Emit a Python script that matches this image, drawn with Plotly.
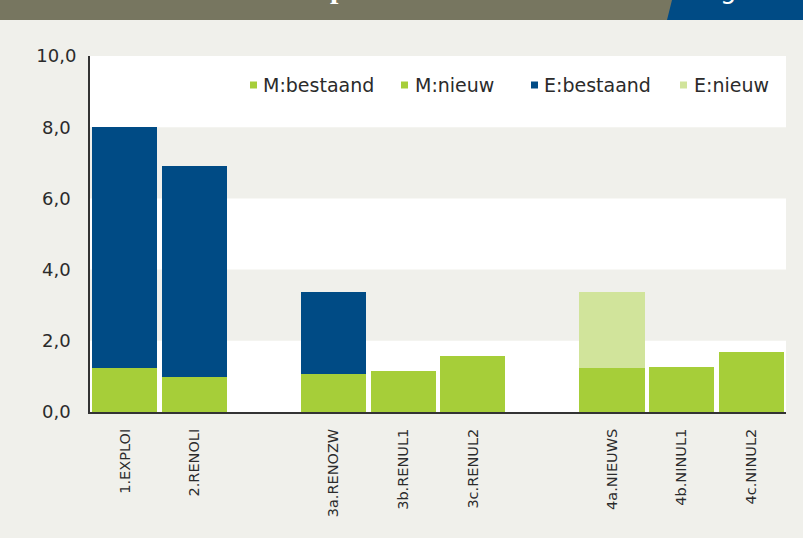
import plotly.graph_objects as go

# ---------------- data ----------------
categories = ["1.EXPLOI", "2.RENOLI", " ", "3a.RENOZW", "3b.RENUL1", "3c.RENUL2",
              "  ", "4a.NIEUWS", "4b.NINUL1", "4c.NINUL2"]
m_bestaand = [1.23, 0.97, None, 1.06, 1.14, 1.56, None, None, None, None]
m_nieuw = [None, None, None, None, None, None, None, 1.23, 1.26, 1.68]
e_bestaand = [6.77, 5.93, None, 2.30, None, None, None, None, None, None]
e_nieuw = [None, None, None, None, None, None, None, 2.13, None, None]
series_names = ["M:bestaand", "M:nieuw", "E:bestaand", "E:nieuw"]
series_colors = ["#a6ce39", "#a6ce39", "#004b85", "#d1e49b"]
y_tickvals = [0, 2, 4, 6, 8, 10]
y_ticktext = ["0,0\u2008", "2,0\u2008", "4,0\u2008", "6,0\u2008", "8,0\u2008", "10,0"]
white_bands = [(0, 2), (4, 6), (8, 10)]

# ---------------- layout helpers ----------------
W, H = 803, 538
L, R, T, B = 90, 17, 56, 126
PW, PH = W - L - R, H - T - B


def px(x):
    return (x - L) / PW


def py(y):
    return 1 - (y - T) / PH


BG = "#f0f0eb"
TXT = "#2b2b2b"
FONT = "DejaVu Sans"

fig = go.Figure()
for name, vals, col in zip(series_names, [m_bestaand, m_nieuw, e_bestaand, e_nieuw], series_colors):
    fig.add_trace(go.Bar(x=categories, y=vals, name=name, marker=dict(color=col, line=dict(width=0)),
                         showlegend=False))

shapes = []
for y0, y1 in white_bands:
    shapes.append(dict(type="rect", xref="paper", yref="y", x0=0, x1=1, y0=y0, y1=y1,
                       fillcolor="white", line=dict(width=0), layer="below"))
# header bar
shapes.append(dict(type="rect", xref="paper", yref="paper", x0=px(0), x1=px(W), y0=py(20), y1=py(0),
                   fillcolor="#777660", line=dict(width=0), layer="below"))
shapes.append(dict(type="path", xref="paper", yref="paper",
                   path=f"M {px(667)},{py(20)} L {px(672)},{py(0)} L {px(W)},{py(0)} L {px(W)},{py(20)} Z",
                   fillcolor="#004b85", line=dict(width=0), layer="below"))

annotations = []
# manual legend
leg_sq_x = [250, 401, 531, 680]
leg_txt_x = [261, 413, 542, 692]
leg_y = 85
for name, col, sx, tx in zip(series_names, series_colors, leg_sq_x, leg_txt_x):
    shapes.append(dict(type="rect", xref="paper", yref="paper", x0=px(sx), x1=px(sx + 7),
                       y0=py(leg_y + 3.5), y1=py(leg_y - 3.5), fillcolor=col, line=dict(width=0)))
    annotations.append(dict(xref="paper", yref="paper", x=px(tx), y=py(leg_y), xanchor="left",
                            yanchor="middle", text=name, showarrow=False,
                            font=dict(family=FONT, size=19, color=TXT)))
# header text (cut off at the top edge, as in the reference)
annotations.append(dict(xref="paper", yref="paper", x=px(338), y=py(6), xanchor="center", yanchor="bottom",
                        text="p", showarrow=False,
                        font=dict(family="Liberation Serif", size=30, color="white", weight="bold")))
annotations.append(dict(xref="paper", yref="paper", x=px(728), y=py(6), xanchor="center", yanchor="bottom",
                        text="g", showarrow=False,
                        font=dict(family=FONT, size=26, color="white")))

fig.update_layout(
    width=W, height=H,
    margin=dict(l=L, r=R, t=T, b=B),
    paper_bgcolor=BG, plot_bgcolor=BG,
    barmode="stack", bargap=0.065,
    shapes=shapes, annotations=annotations,
    showlegend=False,
    font=dict(family=FONT, color=TXT),
)
fig.update_yaxes(range=[0, 10], tickvals=y_tickvals, ticktext=y_ticktext, showgrid=False,
                 zeroline=False, showline=True, linecolor="#333333", linewidth=2, ticks="",
                 tickfont=dict(family=FONT, size=18, color=TXT), ticklabelstandoff=8)
fig.update_xaxes(type="category", categoryorder="array", categoryarray=categories, showgrid=False,
                 showline=True, linecolor="#333333", linewidth=2, ticks="", tickangle=-90,
                 tickfont=dict(family=FONT, size=14.5, color=TXT), ticklabelstandoff=9)

fig.write_html("out.html", config={"displayModeBar": False},
               post_script="document.body.style.margin='0';document.body.style.overflow='hidden';")
